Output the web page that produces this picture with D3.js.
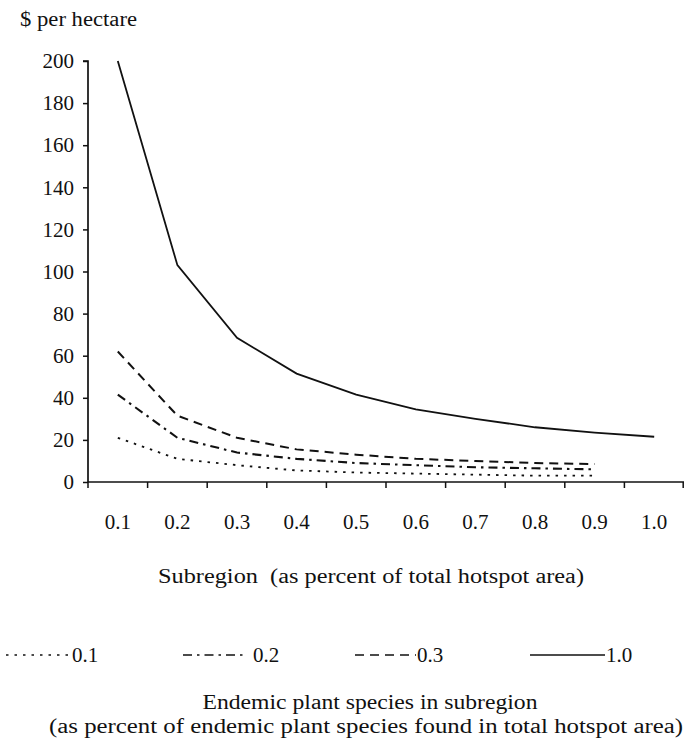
<!DOCTYPE html>
<html>
<head>
<meta charset="utf-8">
<script src="https://cdn.jsdelivr.net/npm/d3@7"></script>
<style>
  html, body { margin: 0; padding: 0; background: #fff; }
  svg { display: block; }
  text { font-family: "Liberation Serif", "DejaVu Serif", serif; fill: #111; }
</style>
</head>
<body>
<svg id="chart" width="684" height="747"></svg>
<script>
// ---- data ----
const categories = ["0.1", "0.2", "0.3", "0.4", "0.5", "0.6", "0.7", "0.8", "0.9", "1.0"];
const yTicks = [0, 20, 40, 60, 80, 100, 120, 140, 160, 180, 200];
const seriesNames = ["0.1", "0.2", "0.3", "1.0"];
const values01 = [21, 11, 8, 5.5, 4.5, 4, 3.5, 3, 3];
const values02 = [41.5, 21, 14, 11, 9, 8, 7, 6.5, 6];
const values03 = [62, 31.5, 21, 15.5, 13, 11, 10, 9, 8.5];
const values10 = [200, 103, 68.5, 51.5, 41.5, 34.5, 30, 26, 23.5, 21.5];

const series = [
  { name: seriesNames[0], values: values01, dash: "2.5,6", width: 1.8 },
  { name: seriesNames[1], values: values02, dash: "9,5,2.5,5", width: 2.1 },
  { name: seriesNames[2], values: values03, dash: "9,6", width: 2 },
  { name: seriesNames[3], values: values10, dash: null, width: 1.8 }
];

const svg = d3.select("#chart");
const x = d3.scaleBand().domain(categories).range([88, 684]).paddingInner(0).paddingOuter(0);
const y = d3.scaleLinear().domain([0, 200]).range([482, 61]);

// y axis
const yAxis = d3.axisLeft(y).tickValues(yTicks).tickSize(5).tickPadding(9).tickFormat(d3.format("d"));
const gy = svg.append("g").attr("transform", "translate(88,0)").call(yAxis);
gy.select(".domain").attr("stroke", "#111").attr("stroke-width", 1.7).attr("d", `M-5,${y(200)}H0V${y(0)}`);
gy.selectAll(".tick line").attr("stroke", "#111").attr("stroke-width", 1.5);
gy.selectAll(".tick text").style("font-size", "21px").style("font-family", '"Liberation Serif", serif').attr("fill", "#111");

// x axis (labels centred in bands, ticks at band edges)
const xAxis = d3.axisBottom(x).tickSize(0).tickPadding(32);
const gx = svg.append("g").attr("transform", `translate(0,${y(0)})`).call(xAxis);
gx.select(".domain").attr("stroke", "#111").attr("stroke-width", 1.7).attr("d", `M88,0H684`);
gx.selectAll(".tick text").style("font-size", "21px").style("font-family", '"Liberation Serif", serif').attr("fill", "#111");
const edges = categories.map(c => x(c)).concat([x.range()[1] - 0.8]);
gx.selectAll(".edge").data(edges).enter().append("line")
  .attr("class", "edge")
  .attr("x1", d => d).attr("x2", d => d)
  .attr("y1", 0).attr("y2", 6)
  .attr("stroke", "#111").attr("stroke-width", 1.5);

// lines
const line = d3.line()
  .x((d, i) => x(categories[i]) + x.bandwidth() / 2)
  .y(d => y(d));
svg.selectAll(".series").data(series).enter().append("path")
  .attr("class", "series")
  .attr("d", d => line(d.values))
  .attr("fill", "none")
  .attr("stroke", "#111")
  .attr("stroke-width", d => d.width)
  .attr("stroke-dasharray", d => d.dash);

// titles
svg.append("text").attr("x", 20).attr("y", 26).style("font-size", "20px")
  .attr("textLength", 117).attr("lengthAdjust", "spacingAndGlyphs").text("$ per hectare");
svg.append("text").attr("x", 158).attr("y", 583).style("font-size", "20px")
  .attr("xml:space", "preserve").style("white-space", "pre")
  .attr("textLength", 426).attr("lengthAdjust", "spacingAndGlyphs")
  .text("Subregion  (as percent of total hotspot area)");

// legend
const legendItems = [
  { s: series[0], x1: 6, x2: 70, tx: 72 },
  { s: series[1], x1: 183, x2: 246, tx: 253 },
  { s: series[2], x1: 355, x2: 416, tx: 417 },
  { s: series[3], x1: 530, x2: 605, tx: 606 }
];
const lg = svg.append("g");
lg.selectAll("line").data(legendItems).enter().append("line")
  .attr("x1", d => d.x1).attr("x2", d => d.x2)
  .attr("y1", 655).attr("y2", 655)
  .attr("stroke", "#111")
  .attr("stroke-width", d => d.s.width * 0.8)
  .attr("stroke-dasharray", d => d.s.dash);
lg.selectAll("text").data(legendItems).enter().append("text")
  .attr("x", d => d.tx).attr("y", 662).style("font-size", "21px")
  .text(d => d.s.name);

svg.append("text").attr("x", 370).attr("y", 709).attr("text-anchor", "middle").style("font-size", "20px")
  .attr("textLength", 335).attr("lengthAdjust", "spacingAndGlyphs")
  .text("Endemic plant species in subregion");
svg.append("text").attr("x", 366).attr("y", 733).attr("text-anchor", "middle").style("font-size", "20px")
  .attr("textLength", 634).attr("lengthAdjust", "spacingAndGlyphs")
  .text("(as percent of endemic plant species found in total hotspot area)");
</script>
</body>
</html>
